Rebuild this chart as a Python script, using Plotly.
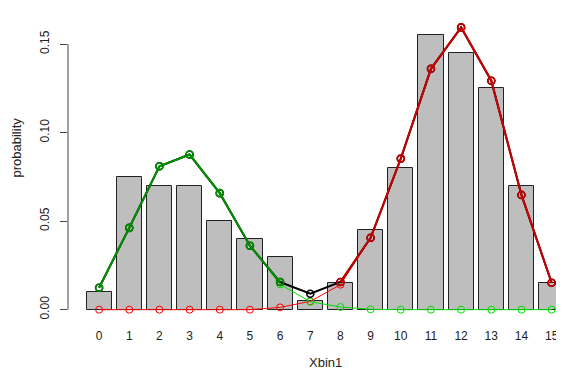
import plotly.graph_objects as go

# ---- data ----
bins = list(range(16))
tick_labels = [str(b) for b in bins]
observed = [0.010, 0.075, 0.070, 0.070, 0.050, 0.040, 0.030, 0.005,
            0.015, 0.045, 0.080, 0.155, 0.145, 0.125, 0.070, 0.015]
total_fit = [0.0124, 0.0462, 0.0810, 0.0876, 0.0658, 0.0361, 0.0156, 0.0090,
             0.0156, 0.0406, 0.0853, 0.1360, 0.1594, 0.1293, 0.0648, 0.0152]
comp1_fit = [0.0124, 0.0462, 0.0810, 0.0876, 0.0658, 0.0361, 0.0143, 0.0045,
             0.0015, 0.0002, 0.0, 0.0, 0.0, 0.0, 0.0, 0.0]
comp2_fit = [0.0, 0.0, 0.0, 0.0, 0.0, 0.0, 0.0013, 0.0047,
             0.0141, 0.0404, 0.0853, 0.1360, 0.1594, 0.1293, 0.0648, 0.0152]
class1_bins = bins[0:7]
class2_bins = bins[8:16]
y_ticks = [0.0, 0.05, 0.10, 0.15]
y_tick_labels = ["0.00", "0.05", "0.10", "0.15"]

DARKGREEN = "#009000"
DARKRED = "#CC0000"

fig = go.Figure()
fig.add_trace(go.Bar(x=bins, y=observed, width=1 / 1.2,
                     marker=dict(color="#BEBEBE", line=dict(color="#222222", width=1)),
                     hoverinfo="skip"))

def line(x, y, color, w, msize, mw):
    fig.add_trace(go.Scatter(x=x, y=y, mode="lines+markers",
                             line=dict(color=color, width=w),
                             marker=dict(symbol="circle-open", size=msize,
                                         color=color, line=dict(color=color, width=mw))))

line(bins, comp2_fit, "#FF0000", 1, 7, 1)
line(bins, comp1_fit, "#00DD00", 1, 7, 1)
line(bins, total_fit, "#000000", 2, 7, 1.6)
line(class1_bins, [total_fit[b] for b in class1_bins], DARKGREEN, 2, 7, 1.6)
line(class2_bins, [total_fit[b] for b in class2_bins], DARKRED, 2, 7, 1.6)

fig.add_shape(type="line", xref="paper", yref="y", x0=0, x1=0, y0=0, y1=0.15,
              line=dict(color="#444444", width=1))

# page has an 8px body margin, so the figure is 8px smaller and offset
fig.update_layout(
    width=556, height=364,
    margin=dict(l=60, r=0, t=7, b=51, autoexpand=False),
    plot_bgcolor="white", paper_bgcolor="white",
    showlegend=False,
    bargap=0,
    font=dict(family="Liberation Sans, Arial, sans-serif", size=12, color="#222222"),
    xaxis=dict(range=[-1.03, 15.41], tickvals=bins, ticktext=tick_labels,
               showline=False, showgrid=False, zeroline=False, ticks="",
               automargin=False,
               ticklabelstandoff=6, tickfont=dict(size=12)),
    yaxis=dict(range=[-0.0064, 0.1664], tickvals=y_ticks, ticktext=y_tick_labels,
               showline=False, showgrid=False, zeroline=False,
               automargin=False,
               ticks="outside", ticklen=7, tickcolor="#444444",
               tickangle=-90, ticklabelstandoff=6, tickfont=dict(size=12)),
    annotations=[
        dict(text="Xbin1", xref="paper", yref="paper",
             x=(325.7 - 68) / 496, y=(321 - 362.7) / 306,
             xanchor="center", yanchor="middle", showarrow=False, font=dict(size=13)),
        dict(text="probability", xref="paper", yref="paper",
             x=(16 - 68) / 496, y=(321 - 147.5) / 306, textangle=-90,
             xanchor="center", yanchor="middle", showarrow=False, font=dict(size=13)),
    ],
)

fig.write_html("out.html")
